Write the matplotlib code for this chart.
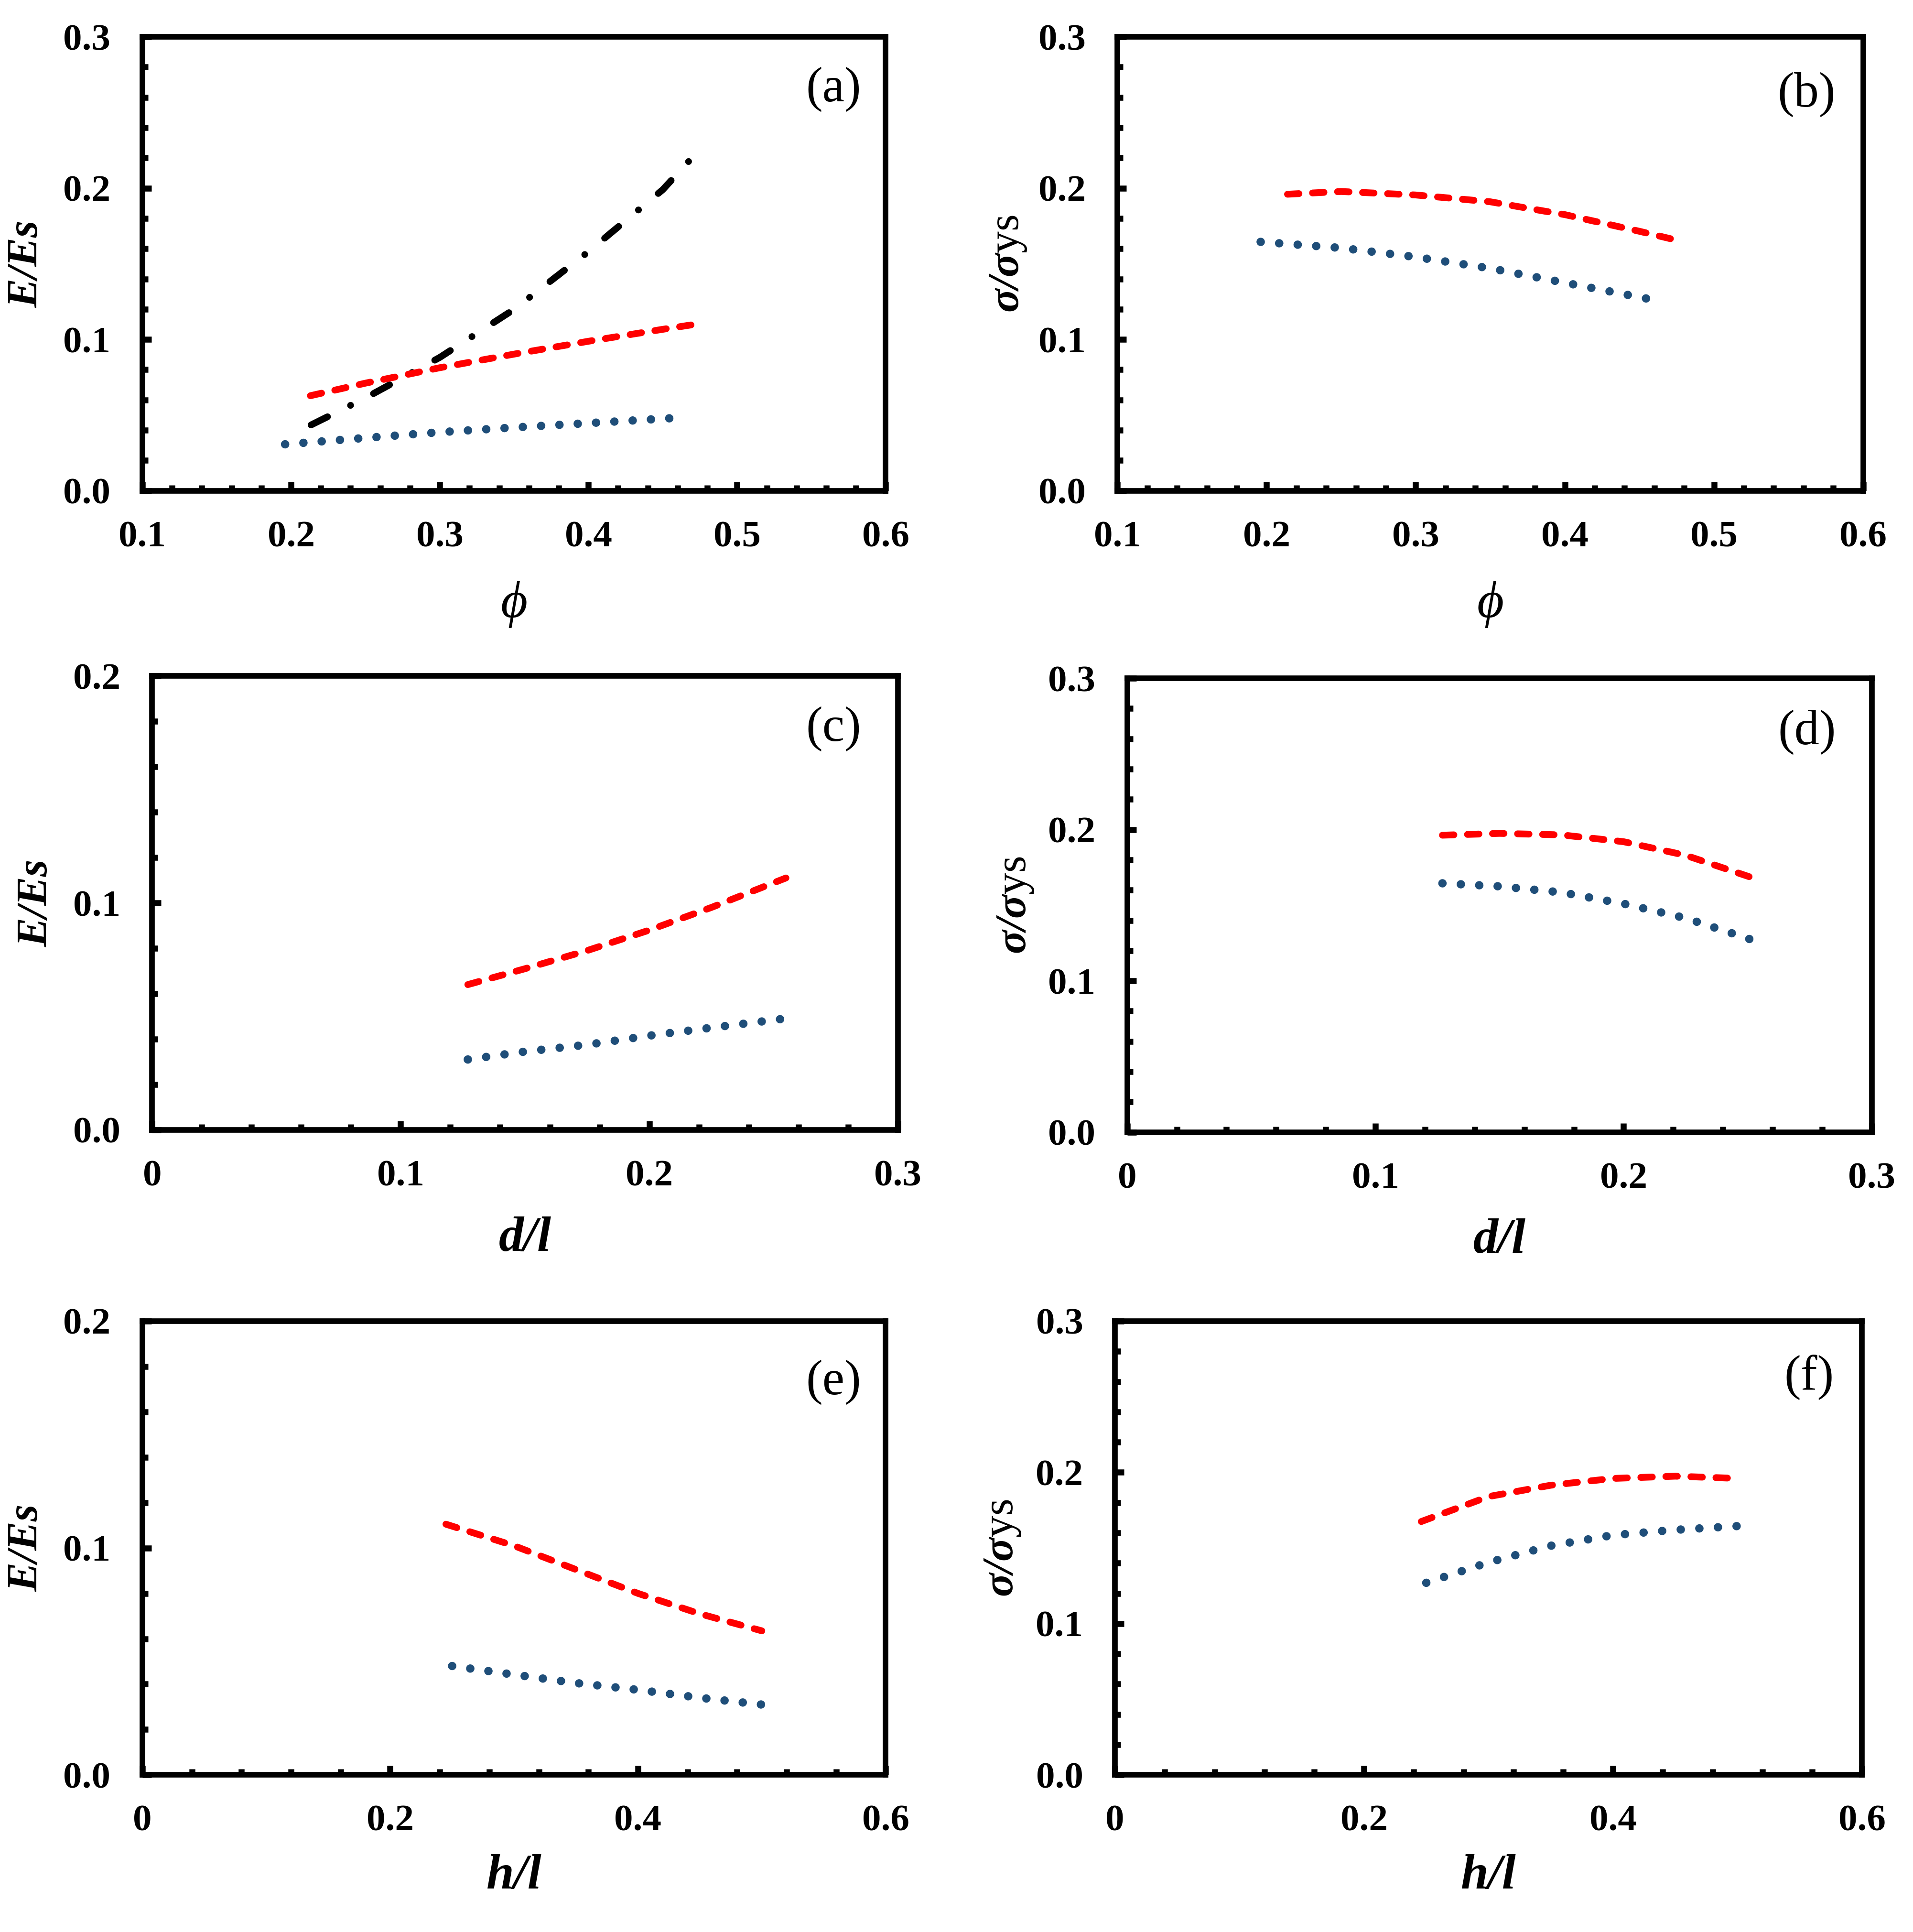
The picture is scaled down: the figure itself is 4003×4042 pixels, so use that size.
import numpy as np
import matplotlib
matplotlib.use('Agg')
import matplotlib.pyplot as plt
from matplotlib.ticker import MultipleLocator

plt.rcParams.update({
    'font.family': 'serif',
    'font.serif': ['Liberation Serif', 'DejaVu Serif'],
    'mathtext.fontset': 'custom',
    'mathtext.rm': 'Liberation Serif',
    'mathtext.it': 'Liberation Serif:italic',
    'mathtext.bf': 'Liberation Serif:bold',
    'mathtext.bfit': 'Liberation Serif:italic:bold',
    'axes.linewidth': 2.8,
    'xtick.direction': 'in', 'ytick.direction': 'in',
    'xtick.major.size': 4.5, 'ytick.major.size': 4.5,
    'xtick.minor.size': 2.8, 'ytick.minor.size': 2.8,
    'xtick.major.width': 3.0, 'ytick.major.width': 3.0,
    'xtick.minor.width': 3.0, 'ytick.minor.width': 3.0,
})

RED = '#FF0000'; BLUE = '#1F4E79'; BLK = 'black'
DPI = 300

# ---------- data ----------
# (a) E/Es vs phi
a_black_x = [0.2135, 0.25, 0.30, 0.35, 0.40, 0.45, 0.471]
a_black_y = [0.0435, 0.0613, 0.0881, 0.1199, 0.158, 0.199, 0.2215]
a_red_x = [0.213, 0.25, 0.30, 0.35, 0.40, 0.45, 0.475]
a_red_y = [0.0628, 0.0711, 0.0813, 0.0903, 0.0988, 0.1067, 0.1105]
a_blue_x = [0.196, 0.25, 0.30, 0.35, 0.40, 0.455]
a_blue_y = [0.0307, 0.0349, 0.0387, 0.0418, 0.0447, 0.0479]
# (b) sigma/sigma_ys vs phi
b_red_x = [0.214, 0.25, 0.30, 0.35, 0.40, 0.45, 0.475]
b_red_y = [0.196, 0.1978, 0.1955, 0.191, 0.1825, 0.1715, 0.1656]
b_blue_x = [0.196, 0.25, 0.30, 0.35, 0.40, 0.455]
b_blue_y = [0.1645, 0.1605, 0.1545, 0.147, 0.1375, 0.127]
# (c) E/Es vs d/l
c_red_x = [0.127, 0.15, 0.175, 0.20, 0.225, 0.255]
c_red_y = [0.064, 0.071, 0.079, 0.088, 0.098, 0.111]
c_blue_x = [0.127, 0.15, 0.175, 0.20, 0.225, 0.253]
c_blue_y = [0.031, 0.0345, 0.0375, 0.0415, 0.045, 0.0488]
# (d) sigma/sigma_ys vs d/l
d_red_x = [0.127, 0.15, 0.175, 0.20, 0.225, 0.254]
d_red_y = [0.1963, 0.1975, 0.1965, 0.192, 0.183, 0.167]
d_blue_x = [0.127, 0.15, 0.175, 0.20, 0.225, 0.251]
d_blue_y = [0.1645, 0.1625, 0.1585, 0.151, 0.1415, 0.1275]
# (e) E/Es vs h/l
e_red_x = [0.245, 0.30, 0.35, 0.40, 0.45, 0.50]
e_red_y = [0.1105, 0.101, 0.0905, 0.080, 0.071, 0.0635]
e_blue_x = [0.25, 0.30, 0.35, 0.40, 0.45, 0.50]
e_blue_y = [0.048, 0.0442, 0.0405, 0.0375, 0.034, 0.031]
# (f) sigma/sigma_ys vs h/l
f_red_x = [0.246, 0.30, 0.35, 0.40, 0.45, 0.50]
f_red_y = [0.1675, 0.184, 0.1915, 0.196, 0.1975, 0.196]
f_blue_x = [0.25, 0.30, 0.35, 0.40, 0.45, 0.50]
f_blue_y = [0.127, 0.1405, 0.1515, 0.1585, 0.162, 0.1645]

phi_ticks = [0.1, 0.2, 0.3, 0.4, 0.5, 0.6]
phi_labels = ['0.1', '0.2', '0.3', '0.4', '0.5', '0.6']
dl_ticks = [0, 0.1, 0.2, 0.3]
dl_labels = ['0', '0.1', '0.2', '0.3']
hl_ticks = [0, 0.2, 0.4, 0.6]
hl_labels = ['0', '0.2', '0.4', '0.6']
y3_ticks = [0, 0.1, 0.2, 0.3]
y3_labels = ['0.0', '0.1', '0.2', '0.3']
y2_ticks = [0, 0.1, 0.2]
y2_labels = ['0.0', '0.1', '0.2']

E_LAB = 'E/Es'
S_LAB = r'$\mathbfit{\sigma/\sigma}\mathrm{ys}$'

fig = plt.figure(figsize=(4004 / DPI, 4042 / DPI), dpi=DPI)

dash_red = dict(color=RED, lw=3.4, ls=(0, (1.7, 2.0)), dash_capstyle='round')
dot_blue = dict(color=BLUE, lw=4.2, dash_capstyle='round')
dashdot_blk = dict(color=BLK, lw=3.4, ls=(0, (2.7, 3.8, 0.01, 3.8)), dash_capstyle='round')
DOT_PERIOD = 2.21  # dot spacing, in line widths


def plot_dotted(ax, x, y, st):
    # stretch the dot spacing a touch so a dot lands on both ends of the curve
    pts = ax.transData.transform(np.column_stack([x, y]))
    length = np.sum(np.hypot(*np.diff(pts, axis=0).T)) - 2.0
    lw_px = st['lw'] * DPI / 72
    n = max(1, round(length / (DOT_PERIOD * lw_px)))
    gap = length / n / lw_px - 0.01
    ax.plot(x, y, ls=(0, (0.01, gap)), **st)


panels = [
    # rect, xlim, xticks, xlabels, xminor, ylim, yticks, ylabels, xlab, ylab, tag, tagpos, xlab_y, ylab_x
    ([0.0744, 0.746, 0.3885, 0.2349], (0.1, 0.6), phi_ticks, phi_labels, 0.02,
     (0, 0.3), y3_ticks, y3_labels, 'ϕ', E_LAB, '(a)', (0.93, 0.884), -0.251, -0.155),
    ([0.5840, 0.746, 0.3897, 0.2349], (0.1, 0.6), phi_ticks, phi_labels, 0.02,
     (0, 0.3), y3_ticks, y3_labels, 'ϕ', S_LAB, '(b)', (0.924, 0.873), -0.251, -0.146),
    ([0.0795, 0.4152, 0.3897, 0.2349], (0, 0.3), dl_ticks, dl_labels, 0.02,
     (0, 0.2), y2_ticks, y2_labels, 'd/l', E_LAB, '(c)', (0.914, 0.884), -0.24, -0.155),
    ([0.5891, 0.414, 0.3891, 0.2349], (0, 0.3), dl_ticks, dl_labels, 0.02,
     (0, 0.3), y3_ticks, y3_labels, 'd/l', S_LAB, '(d)', (0.913, 0.881), -0.24, -0.15),
    ([0.0744, 0.0813, 0.3885, 0.2349], (0, 0.6), hl_ticks, hl_labels, 0.04,
     (0, 0.2), y2_ticks, y2_labels, 'h/l', E_LAB, '(e)', (0.93, 0.865), -0.224, -0.155),
    ([0.5827, 0.0813, 0.3904, 0.2349], (0, 0.6), hl_ticks, hl_labels, 0.04,
     (0, 0.3), y3_ticks, y3_labels, 'h/l', S_LAB, '(f)', (0.929, 0.876), -0.224, -0.15),
]

curves = [
    [(a_black_x, a_black_y, dashdot_blk), (a_red_x, a_red_y, dash_red), (a_blue_x, a_blue_y, dot_blue)],
    [(b_red_x, b_red_y, dash_red), (b_blue_x, b_blue_y, dot_blue)],
    [(c_red_x, c_red_y, dash_red), (c_blue_x, c_blue_y, dot_blue)],
    [(d_red_x, d_red_y, dash_red), (d_blue_x, d_blue_y, dot_blue)],
    [(e_red_x, e_red_y, dash_red), (e_blue_x, e_blue_y, dot_blue)],
    [(f_red_x, f_red_y, dash_red), (f_blue_x, f_blue_y, dot_blue)],
]

for (rect, xlim, xt, xtl, xmin, ylim, yt, ytl, xlab, ylab, tag, tpos, xly, ylx), cs in zip(panels, curves):
    ax = fig.add_axes(rect)
    ax.set_xlim(*xlim); ax.set_ylim(*ylim)
    for x, y, st in cs:
        if st is dot_blue:
            plot_dotted(ax, x, y, st)
        else:
            ax.plot(x, y, **st)
    ax.set_xticks(xt); ax.set_xticklabels(xtl)
    ax.set_yticks(yt); ax.set_yticklabels(ytl)
    ax.xaxis.set_minor_locator(MultipleLocator(xmin))
    ax.yaxis.set_minor_locator(MultipleLocator(0.02))
    ax.tick_params(which='both', top=False, right=False)
    ax.tick_params(axis='x', which='major', pad=15)
    ax.tick_params(axis='y', which='major', pad=16)
    for lab in ax.get_xticklabels() + ax.get_yticklabels():
        lab.set_fontsize(19); lab.set_fontweight('bold')
    if xlab == 'ϕ':
        ax.set_xlabel(xlab, fontsize=26, style='italic', va='center',
                      family=['Liberation Serif', 'DejaVu Serif'])
    else:
        ax.set_xlabel(xlab, fontsize=25, style='italic', weight='bold', va='center')
    ax.xaxis.set_label_coords(0.5, xly)
    if ylab == E_LAB:
        ax.set_ylabel(ylab, fontsize=22, style='italic', weight='bold', va='center')
    else:
        ax.set_ylabel(ylab, fontsize=22, va='center')
    ax.yaxis.set_label_coords(ylx, 0.5)
    ax.text(tpos[0], tpos[1], tag, transform=ax.transAxes, fontsize=25,
            ha='center', va='center')

fig.savefig('out.png', dpi=DPI)
